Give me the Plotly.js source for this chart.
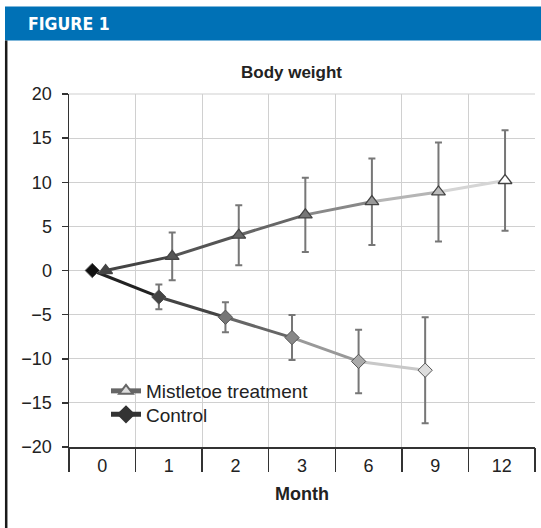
<!DOCTYPE html>
<html><head><meta charset="utf-8">
<script src="https://cdn.plot.ly/plotly-3.0.1.min.js"></script>
<style>html,body{margin:0;padding:0;background:#fff}</style>
</head><body><div id="chart" style="width:541px;height:528px"></div>
<script>
// ---- data ----
const months = ['0', '1', '2', '3', '6', '9', '12'];
const mistletoe = [0, 1.6, 4.0, 6.3, 7.8, 8.9, 10.2];
const mistletoeErr = [0, 2.7, 3.4, 4.2, 4.9, 5.6, 5.7];
const control = [0, -3.0, -5.3, -7.6, -10.3, -11.3];
const controlErr = [0, 1.4, 1.7, 2.55, 3.6, 6.0];
const seriesNames = ['Mistletoe treatment', 'Control'];

// ---- styles ----
const mistOffset = 0.05, ctrlOffset = -0.15;
const mistMarkerColors = ['#444', '#555', '#666', '#777', '#999', '#bbb', '#fff'];
const mistSegColors = ['#444', '#555', '#666', '#888', '#b5b5b5', '#d5d5d5'];
const ctrlMarkerColors = ['#111', '#444', '#777', '#888', '#aaa', '#ddd'];
const ctrlSegColors = ['#222', '#444', '#666', '#999', '#c8c8c8'];
const FONT = '"Liberation Sans", Arial, sans-serif';
const NARROW = '"DejaVu Sans Condensed", "Liberation Sans Narrow", Arial, sans-serif';

const W = 541, H = 528, L = 69, R = 6, T = 94, B = 81;
const px = x => (x - L) / (W - L - R);
const py = y => (H - B - y) / (H - T - B);

const idx = arr => arr.map((_, i) => i);
const mx = idx(mistletoe).map(i => i + mistOffset);
const cx = idx(control).map(i => i + ctrlOffset);

const traces = [];
// overlay axis carrier for boundary gridlines / ticks
traces.push({x: [months.length / 2], y: [0], xaxis: 'x2', mode: 'markers', marker: {opacity: 0},
  showlegend: false, hoverinfo: 'skip'});
// legend entries (no data drawn)
traces.push({x: [null], y: [null], mode: 'lines+markers', name: seriesNames[0], legend: 'legend',
  line: {color: '#666', width: 3},
  marker: {symbol: 'triangle-up', size: 12, color: '#ddd', line: {color: '#666', width: 1.5}},
  hoverinfo: 'skip'});
traces.push({x: [null], y: [null], mode: 'lines+markers', name: seriesNames[1], legend: 'legend2',
  line: {color: '#333', width: 3},
  marker: {symbol: 'diamond', size: 11, color: '#333', line: {color: '#333', width: 1}},
  hoverinfo: 'skip'});
// gradient segments
for (let i = 0; i < mistletoe.length - 1; i++) {
  traces.push({x: [mx[i], mx[i + 1]], y: [mistletoe[i], mistletoe[i + 1]], mode: 'lines',
    line: {color: mistSegColors[i], width: 3}, showlegend: false, hoverinfo: 'skip'});
}
for (let i = 0; i < control.length - 1; i++) {
  traces.push({x: [cx[i], cx[i + 1]], y: [control[i], control[i + 1]], mode: 'lines',
    line: {color: ctrlSegColors[i], width: 3}, showlegend: false, hoverinfo: 'skip'});
}
// markers + error bars
traces.push({x: cx, y: control, mode: 'markers', showlegend: false, name: seriesNames[1],
  error_y: {type: 'data', array: controlErr, visible: true, color: '#777', thickness: 2, width: 3.5},
  marker: {symbol: 'diamond', size: 11, color: ctrlMarkerColors, line: {color: '#555', width: 1}}});
traces.push({x: mx, y: mistletoe, mode: 'markers', showlegend: false, name: seriesNames[0],
  error_y: {type: 'data', array: mistletoeErr, visible: true, color: '#777', thickness: 2, width: 3.5},
  marker: {symbol: 'triangle-up', size: 12, color: mistMarkerColors, line: {color: '#444', width: 1.3}}});

const catIdx = idx(months);
const bounds = catIdx.concat([months.length]).map(i => i - 0.5);

const legendBase = {xanchor: 'left', yanchor: 'top', bgcolor: 'rgba(0,0,0,0)',
  font: {family: FONT, size: 19, color: '#222'}, itemsizing: 'constant'};

const layout = {
  width: W, height: H,
  margin: {l: L, r: R, t: T, b: B},
  paper_bgcolor: '#fff', plot_bgcolor: '#fff',
  font: {family: FONT, size: 18, color: '#222'},
  title: {text: '<b>Body weight</b>', font: {family: FONT, size: 17, color: '#222'},
    xref: 'container', x: 291.5 / W, xanchor: 'center', yref: 'container', y: 1 - 72 / H, yanchor: 'middle'},
  xaxis: {range: [-0.5, months.length - 0.5], tickmode: 'array', tickvals: catIdx, ticktext: months,
    showgrid: false, zeroline: false, ticks: '', showline: true, linecolor: '#333', linewidth: 1.5,
    ticklabelstandoff: 2, tickfont: {size: 18, color: '#222'},
    title: {text: '<b>Month</b>', font: {size: 18, color: '#222'}, standoff: 12}},
  xaxis2: {overlaying: 'x', range: [-0.5, months.length - 0.5], tickmode: 'array', tickvals: bounds,
    showticklabels: false, ticks: 'outside', ticklen: 24, tickwidth: 1.5, tickcolor: '#333',
    showgrid: true, gridcolor: '#d0d0d0', gridwidth: 1.2, zeroline: false, showline: false},
  yaxis: {range: [-20, 20], dtick: 5, tick0: 0, showgrid: true, gridcolor: '#d0d0d0', gridwidth: 1.2,
    zeroline: false, showline: true, linecolor: '#333', linewidth: 1.5, ticks: 'outside', ticklen: 6,
    tickwidth: 1.5, tickcolor: '#333', ticklabelstandoff: 6, tickfont: {size: 18, color: '#222'}},
  showlegend: true,
  legend: Object.assign({x: px(106), y: py(372)}, legendBase),
  legend2: Object.assign({x: px(106), y: py(395.5)}, legendBase),
  shapes: [
    {type: 'rect', xref: 'paper', yref: 'paper', x0: px(5), x1: px(541), y0: py(40.5), y1: py(6.5),
      fillcolor: '#0071b6', line: {width: 0}},
    {type: 'line', xref: 'paper', yref: 'paper', x0: px(6.2), x1: px(6.2), y0: py(528), y1: py(40.5),
      line: {color: '#1a1a1a', width: 2.5}},
    {type: 'line', xref: 'paper', yref: 'paper', x0: 0, x1: 1, y0: 1, y1: 1,
      line: {color: '#d0d0d0', width: 1.2}}
  ],
  annotations: [
    {text: '<b>FIGURE 1</b>', xref: 'paper', yref: 'paper', x: px(26), y: py(24), xanchor: 'left', yanchor: 'middle',
      showarrow: false, font: {family: NARROW, size: 17.5, color: '#fff'}}
  ]
};

Plotly.newPlot('chart', traces, layout, {displayModeBar: false, staticPlot: true});
</script>
</body></html>
